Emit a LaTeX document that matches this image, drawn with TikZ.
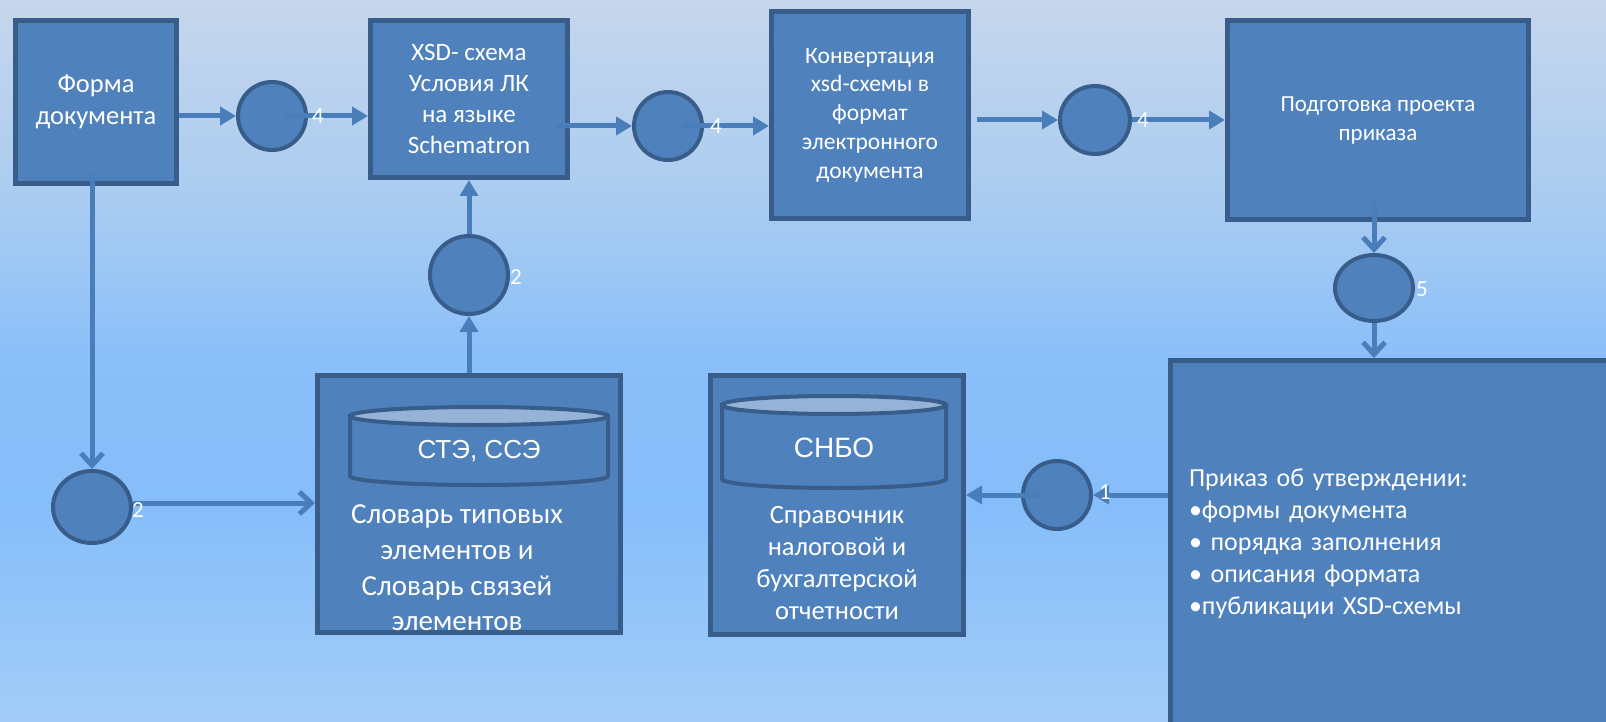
\documentclass[tikz,border=0pt]{standalone}
\usepackage{fontspec}
\setmainfont{Carlito}
\newfontfamily\drumfont{Liberation Sans}
\usetikzlibrary{shapes.geometric,arrows.meta}
\definecolor{BoxFill}{RGB}{79,129,189}
\definecolor{BoxLine}{RGB}{56,93,138}
\definecolor{FlowLine}{RGB}{74,126,187}
\definecolor{LidFill}{RGB}{149,179,215}
\definecolor{SkyTop}{RGB}{198,214,236}
\definecolor{SkyHigh}{RGB}{172,205,240}
\definecolor{SkyMid}{RGB}{138,191,249}
\definecolor{SkyDeep}{RGB}{134,190,250}
\definecolor{SkyLow}{RGB}{162,204,247}
\pgfdeclareverticalshading{sky}{100bp}{color(0bp)=(SkyLow); color(25bp)=(SkyLow);
    color(40bp)=(SkyDeep); color(50bp)=(SkyMid); color(62bp)=(SkyHigh);
    color(75bp)=(SkyTop); color(100bp)=(SkyTop)}
\newcommand\DbDrum[4]{%
    \draw[BoxLine,line width=4pt,fill=BoxFill] ({#1-#2},#3) -- ({#1-#2},#4)
        arc[start angle=180,end angle=360,x radius=#2pt,y radius=9pt] -- ({#1+#2},#3) -- cycle;
    \draw[BoxLine,line width=4pt,fill=LidFill] (#1,#3) ellipse[x radius=#2pt,y radius=9pt];
}

\begin{document}
\begin{tikzpicture}[x=1pt,y=-1pt,
    box/.style={draw=BoxLine,fill=BoxFill,line width=5pt,text=white,align=center,inner sep=0pt},
    hub/.style={ellipse,draw=BoxLine,fill=BoxFill,line width=4pt,inner sep=0pt},
    words/.style={text=white,align=center,inner sep=0pt},
    num/.style={text=white,inner sep=0pt,font=\fontsize{23}{26}\selectfont},
    flow/.style={FlowLine,line width=5pt,-{Triangle[length=16pt,width=18pt]}},
    openflow/.style={FlowLine,line width=5pt,-{Straight Barb[length=12pt,width=22pt]}}]
    \useasboundingbox (0,0) rectangle (1606,722);
    \clip (0,0) rectangle (1606,722);
    \shade[shading=sky] (0,0) rectangle (1606,722);

    \node[box,minimum width=161pt,minimum height=163pt,font=\fontsize{26.5}{32}\selectfont] (form) at (96,102) {Форма\\документа};
    \node[box,minimum width=197pt,minimum height=157pt,font=\fontsize{25}{31}\selectfont] (xsd) at (469,99) {XSD- схема\\Условия ЛК\\на языке\\Schematron};
    \node[box,minimum width=197pt,minimum height=207pt,font=\fontsize{23.5}{28.75}\selectfont] (conv) at (870,115) {Конвертация\\xsd-схемы в\\формат\\электронного\\документа};
    \node[box,minimum width=301pt,minimum height=199pt,font=\fontsize{23}{29}\selectfont] (prep) at (1378,120) {Подготовка проекта\\приказа};
    \node[box,minimum width=459pt,minimum height=367pt,text width=422pt,align=left,font=\fontsize{26}{32}\selectfont] (order) at (1400,544) {Приказ об утверждении:\\•формы документа\\• порядка заполнения\\• описания формата\\•публикации XSD-схемы};
    \node[box,minimum width=303pt,minimum height=257pt] (ste) at (469,504) {};
    \node[box,minimum width=253pt,minimum height=259pt] (snbo) at (837,505) {};

    \DbDrum{479}{129}{416}{476}
    \DbDrum{834}{112}{405}{479}
    \node[words,font=\drumfont\fontsize{26}{30}\selectfont] (steDb) at (479,451) {СТЭ, ССЭ};
    \node[words,font=\drumfont\fontsize{28}{32}\selectfont] (snboDb) at (834,448) {СНБО};
    \node[words,font=\fontsize{29}{35.7}\selectfont] (steTxt) at (457,568) {Словарь типовых\\элементов и\\Словарь связей\\элементов};
    \node[words,font=\fontsize{26.5}{32.3}\selectfont] (snboTxt) at (837,563) {Справочник\\налоговой и\\бухгалтерской\\отчетности};

    \node[hub,minimum width=68pt,minimum height=68pt] (cA) at (272,116) {};
    \node[hub,minimum width=68pt,minimum height=68pt] (cB) at (668,126) {};
    \node[hub,minimum width=70pt,minimum height=68pt] (cC) at (1095,120) {};
    \node[hub,minimum width=78pt,minimum height=66pt] (cE) at (1374,288) {};
    \node[hub,minimum width=78pt,minimum height=72pt] (cG) at (92,507) {};
    \node[hub,minimum width=78pt,minimum height=78pt] (cH) at (469,275) {};
    \node[hub,minimum width=68pt,minimum height=68pt] (cI) at (1057,495) {};

    \draw[flow] (form.east |- cA) -- (cA);
    \draw[flow] ([xshift=14pt]cA.center) -- (cA -| xsd.west);
    \draw[flow] ([xshift=-14pt]xsd.east |- cB) -- (cB);
    \draw[flow] ([xshift=14pt]cB.center) -- (cB -| conv.west);
    \draw[flow] ([xshift=6pt]conv.east |- cC) -- (cC);
    \draw[flow] (cC) -- (cC -| prep.west);
    \draw[openflow] ([yshift=21pt]prep.south -| cE) -- (cE);
    \draw[openflow] (cE) -- (cE |- order.north);
    \draw[openflow] ([yshift=12pt]form.south -| cG) -- (cG);
    \draw[openflow] ([yshift=4pt]cG.east) -- ([yshift=4pt]cG.east -| ste.west);
    \draw[flow] (ste.north -| cH) -- (cH);
    \draw[flow] (cH) -- (cH |- xsd.south);
    \draw[flow] (order.west |- cI) -- (cI);
    \draw[flow] ([xshift=-14pt]cI.center) -- (cI -| snbo.east);

    \node[num] (nA) at (318,116) {4};
    \node[num] (nB) at (716,126) {4};
    \node[num] (nC) at (1143,120) {4};
    \node[num] (nE) at (1422,289) {5};
    \node[num] (nG) at (138,510) {2};
    \node[num] (nH) at (516,277) {2};
    \node[num] (nI) at (1105,492) {1};
\end{tikzpicture}
\end{document}
